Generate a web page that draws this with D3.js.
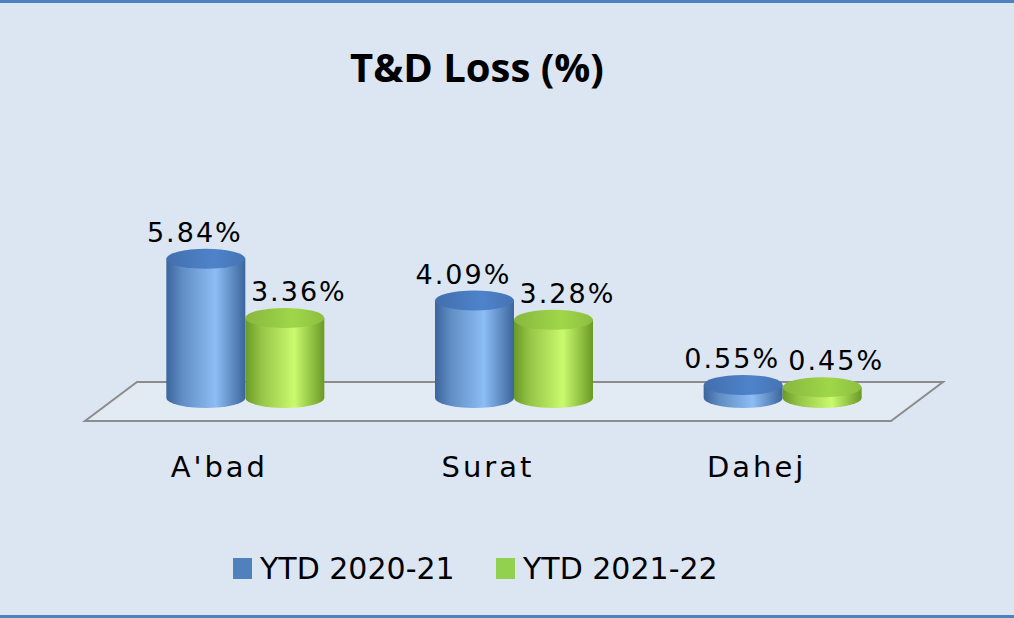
<!DOCTYPE html>
<html>
<head>
<meta charset="utf-8">
<script src="https://cdn.jsdelivr.net/npm/d3@7"></script>
<style>
  html, body { margin: 0; padding: 0; background: #dce6f2; }
  svg { display: block; }
</style>
</head>
<body>
<svg id="chart"></svg>
<script>
// data
const categories = ["A'bad", "Surat", "Dahej"];
const seriesNames = ["YTD 2020-21", "YTD 2021-22"];
const ytd2021 = [5.84, 4.09, 0.55];
const ytd2122 = [3.36, 3.28, 0.45];
const yTicks = [0, 6];

const width = 1014, height = 618;
const colors = [
    { edge: "#3b659c", mid: "#8dbdf5", top: "#4a7cc0", key: "#4f81bd" },
    { edge: "#6a9a25", mid: "#c9fa6e", top: "#97cc45", key: "#92d050" }
];

const svg = d3.select("#chart")
    .attr("width", width)
    .attr("height", height);

// background + borders
svg.append("rect").attr("width", width).attr("height", height).attr("fill", "#dce6f2");
svg.append("rect").attr("x", 0).attr("y", 0).attr("width", width).attr("height", 3).attr("fill", "#4f81bd");
svg.append("rect").attr("x", 0).attr("y", height - 3).attr("width", width).attr("height", 3).attr("fill", "#4f81bd");

// gradients
const defs = svg.append("defs");
colors.forEach((c, i) => {
    const g = defs.append("linearGradient").attr("id", "body" + i)
        .attr("x1", "0%").attr("x2", "100%").attr("y1", "0%").attr("y2", "0%");
    g.append("stop").attr("offset", "0%").attr("stop-color", c.edge);
    g.append("stop").attr("offset", "20%").attr("stop-color", d3.interpolateRgb(c.edge, c.mid)(0.45));
    g.append("stop").attr("offset", "62%").attr("stop-color", c.mid);
    g.append("stop").attr("offset", "100%").attr("stop-color", c.edge);
    const t = defs.append("linearGradient").attr("id", "top" + i)
        .attr("x1", "0%").attr("x2", "100%").attr("y1", "0%").attr("y2", "0%");
    t.append("stop").attr("offset", "0%").attr("stop-color", d3.color(c.top).darker(0.3));
    t.append("stop").attr("offset", "60%").attr("stop-color", d3.color(c.top).brighter(0.15));
    t.append("stop").attr("offset", "100%").attr("stop-color", d3.color(c.top).darker(0.2));
});

// scales
const baseY = 398;
const depth = 26;      // floor half-depth offset in x
const x = d3.scaleBand().domain(categories).range([111, 917]);   // floor mid line
const xFront = d3.scaleBand().domain(categories).range([85, 891]);
const xs = d3.scaleBand().domain(seriesNames).range([-79, 79]);
const y = d3.scaleLinear().domain(yTicks).range([baseY, baseY - 143]);
const rx = xs.bandwidth() / 2, ry = 10;

// floor
const fl = 111 - depth, fr = 917 - depth;
svg.append("path")
    .attr("d", `M${fl},421 L${fr},421 L${917 + depth},382 L${111 + depth},382 Z`)
    .attr("fill", "#e2eaf4")
    .attr("stroke", "#8c8c8c")
    .attr("stroke-width", 2)
    .attr("stroke-linejoin", "miter");

// title
svg.append("text")
    .attr("x", 477).attr("y", 82)
    .attr("text-anchor", "middle")
    .attr("font-family", "'Open Sans', 'Noto Sans', sans-serif")
    .attr("font-weight", "bold")
    .attr("font-size", 40)
    .attr("fill", "#000")
    .text("T&D Loss (%)");

// cylinders
const seriesData = [ytd2021, ytd2122];
const labelDx = [-11, 14];
seriesData.forEach((vals, si) => {
    const g = svg.append("g");
    const items = categories.map((c, i) => ({ cat: c, v: vals[i] }));
    const cx = d => x(d.cat) + x.bandwidth() / 2 + xs(seriesNames[si]) + rx;
    g.selectAll("path.body").data(items).enter().append("path")
        .attr("class", "body")
        .attr("d", d => {
            const x0 = cx(d) - rx, x1 = cx(d) + rx, yt = y(d.v);
            return `M${x0},${yt} L${x0},${baseY} A${rx},${ry} 0 0 0 ${x1},${baseY} L${x1},${yt} Z`;
        })
        .attr("fill", `url(#body${si})`);
    g.selectAll("ellipse").data(items).enter().append("ellipse")
        .attr("cx", cx)
        .attr("cy", d => y(d.v))
        .attr("rx", rx)
        .attr("ry", ry)
        .attr("fill", `url(#top${si})`);
    g.selectAll("text").data(items).enter().append("text")
        .attr("x", d => cx(d) + labelDx[si])
        .attr("y", d => y(d.v) - ry - 7)
        .attr("text-anchor", "middle")
        .attr("font-family", "'DejaVu Sans', sans-serif")
        .attr("font-size", 27)
        .attr("letter-spacing", 2)
        .attr("fill", "#000")
        .text(d => d.v.toFixed(2) + "%");
});

// category labels
svg.append("g").selectAll("text").data(categories).enter().append("text")
    .attr("x", d => xFront(d) + xFront.bandwidth() / 2)
    .attr("y", 477)
    .attr("text-anchor", "middle")
    .attr("font-family", "'DejaVu Sans', sans-serif")
    .attr("font-size", 29)
    .attr("letter-spacing", 3)
    .attr("fill", "#000")
    .text(d => d);

// legend
const legendX = [233, 496];
const legend = svg.append("g").selectAll("g").data(seriesNames).enter().append("g")
    .attr("transform", (d, i) => `translate(${legendX[i]}, 558)`);
legend.append("rect")
    .attr("width", 19).attr("height", 21)
    .attr("fill", (d, i) => colors[i].key);
legend.append("text")
    .attr("x", 27).attr("y", 21)
    .attr("font-family", "'DejaVu Sans', sans-serif")
    .attr("font-size", 30)
    .attr("fill", "#000")
    .text(d => d);
</script>
</body>
</html>
